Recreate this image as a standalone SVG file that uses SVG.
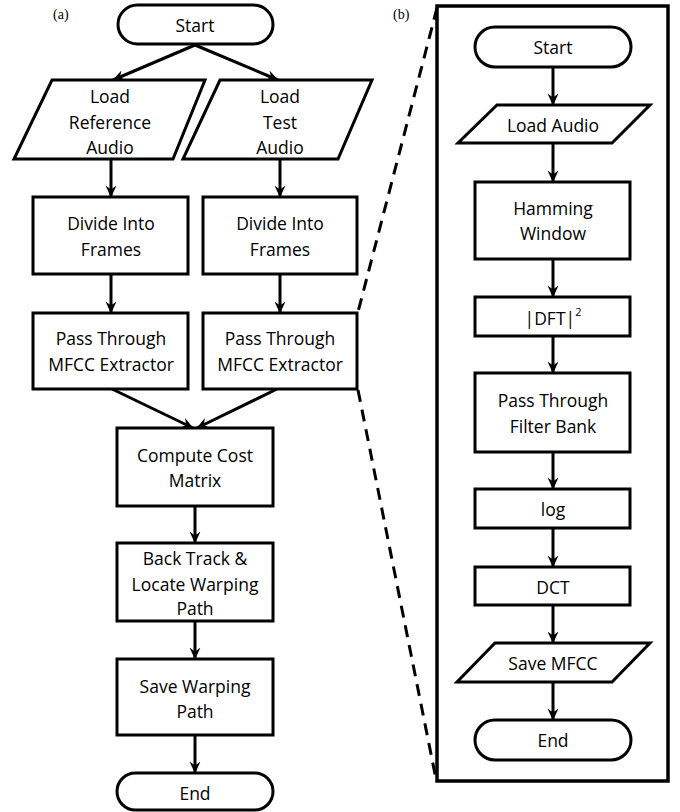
<svg xmlns="http://www.w3.org/2000/svg" width="680" height="812" viewBox="0 0 680 812">
<defs>
<marker id="ah" markerUnits="userSpaceOnUse" markerWidth="12" markerHeight="12" viewBox="0 0 12 12" refX="11.5" refY="6" orient="auto">
<path d="M0,0.5 L12,6 L0,11.5 L4,6 z" fill="#000"/>
</marker>
<style>
.s{fill:#fff;stroke:#000;stroke-width:3}
.t{font-family:"Open Sans","Liberation Sans",sans-serif;font-size:17.5px;fill:#000;text-anchor:middle;dominant-baseline:central}
.c{fill:none;stroke:#000;stroke-width:3;marker-end:url(#ah)}
.d{fill:none;stroke:#000;stroke-width:3;stroke-dasharray:12 8}
.lbl{font-family:"Liberation Serif",serif;font-size:14px;fill:#000}
</style>
</defs>
<rect width="680" height="812" fill="#fff"/>
<text class="lbl" x="53" y="19">(a)</text>
<text class="lbl" x="393" y="19">(b)</text>

<g id="zoomframe">
<rect x="437" y="6" width="231" height="775" fill="none" stroke="#000" stroke-width="3.5"/>
<path class="d" d="M437,8 L358,312"/>
<path class="d" d="M358,390 L436,779"/>
</g>

<g id="connectors">
<path class="c" d="M195,45 L113,80"/>
<path class="c" d="M195,45 L278,80"/>
<path class="c" d="M111,159 L111,197"/>
<path class="c" d="M280,159 L280,197"/>
<path class="c" d="M111,274 L111,313"/>
<path class="c" d="M280,274 L280,313"/>
<path class="c" d="M112,389 L193,428"/>
<path class="c" d="M277,389 L197,428"/>
<path class="c" d="M195,506 L195,543"/>
<path class="c" d="M195,621 L195,659"/>
<path class="c" d="M195,735 L195,773"/>
<path class="c" d="M553,67 L553,105"/>
<path class="c" d="M553,143 L553,182"/>
<path class="c" d="M553,259 L553,297"/>
<path class="c" d="M553,336 L553,373"/>
<path class="c" d="M553,452 L553,489"/>
<path class="c" d="M553,528 L553,567"/>
<path class="c" d="M553,605 L553,643"/>
<path class="c" d="M553,682 L553,720"/>
</g>

<g id="a_start"><rect class="s" x="118" y="5" width="155" height="39" rx="19.5"/><text class="t" x="195" y="25">Start</text></g>
<g id="a_loadref"><polygon class="s" points="52,80 205,80 173,159 14,159"/><text class="t" x="110" y="96">Load</text><text class="t" x="110" y="122">Reference</text><text class="t" x="110" y="147">Audio</text></g>
<g id="a_loadtest"><polygon class="s" points="220,80 372,80 338,159 183,159"/><text class="t" x="280" y="96">Load</text><text class="t" x="280" y="122">Test</text><text class="t" x="280" y="147">Audio</text></g>
<g id="a_divide1"><rect class="s" x="33" y="197" width="155" height="77"/><text class="t" x="111" y="223">Divide Into</text><text class="t" x="111" y="249">Frames</text></g>
<g id="a_divide2"><rect class="s" x="203" y="197" width="154" height="77"/><text class="t" x="280" y="223">Divide Into</text><text class="t" x="280" y="249">Frames</text></g>
<g id="a_mfcc1"><rect class="s" x="33" y="313" width="155" height="76"/><text class="t" x="111" y="338">Pass Through</text><text class="t" x="111" y="364">MFCC Extractor</text></g>
<g id="a_mfcc2"><rect class="s" x="203" y="313" width="154" height="76"/><text class="t" x="280" y="338">Pass Through</text><text class="t" x="280" y="364">MFCC Extractor</text></g>
<g id="a_cost"><rect class="s" x="117" y="428" width="156" height="78"/><text class="t" x="195" y="455">Compute Cost</text><text class="t" x="195" y="480">Matrix</text></g>
<g id="a_back"><rect class="s" x="117" y="543" width="156" height="78"/><text class="t" x="195" y="558">Back Track &amp;</text><text class="t" x="195" y="584">Locate Warping</text><text class="t" x="195" y="608">Path</text></g>
<g id="a_save"><rect class="s" x="117" y="659" width="156" height="76"/><text class="t" x="195" y="686">Save Warping</text><text class="t" x="195" y="711">Path</text></g>
<g id="a_end"><rect class="s" x="117" y="773" width="156" height="37" rx="18.5"/><text class="t" x="195" y="793">End</text></g>

<g id="b_start"><rect class="s" x="475" y="27" width="156" height="40" rx="20"/><text class="t" x="553" y="47">Start</text></g>
<g id="b_load"><polygon class="s" points="497,105 650,105 612,143 458,143"/><text class="t" x="553" y="125">Load Audio</text></g>
<g id="b_hamming"><rect class="s" x="475" y="182" width="155" height="77"/><text class="t" x="553" y="208">Hamming</text><text class="t" x="553" y="233">Window</text></g>
<g id="b_dft"><rect class="s" x="475" y="297" width="155" height="39"/><text class="t" x="553" y="318">|DFT|<tspan font-size="11" dy="-7">2</tspan></text></g>
<g id="b_filter"><rect class="s" x="475" y="373" width="155" height="79"/><text class="t" x="553" y="400">Pass Through</text><text class="t" x="553" y="426">Filter Bank</text></g>
<g id="b_log"><rect class="s" x="475" y="489" width="155" height="39"/><text class="t" x="553" y="509">log</text></g>
<g id="b_dct"><rect class="s" x="475" y="567" width="155" height="38"/><text class="t" x="553" y="587">DCT</text></g>
<g id="b_save"><polygon class="s" points="495,643 650,643 612,682 457,682"/><text class="t" x="553" y="663">Save MFCC</text></g>
<g id="b_end"><rect class="s" x="475" y="720" width="156" height="40" rx="20"/><text class="t" x="553" y="740">End</text></g>
</svg>
